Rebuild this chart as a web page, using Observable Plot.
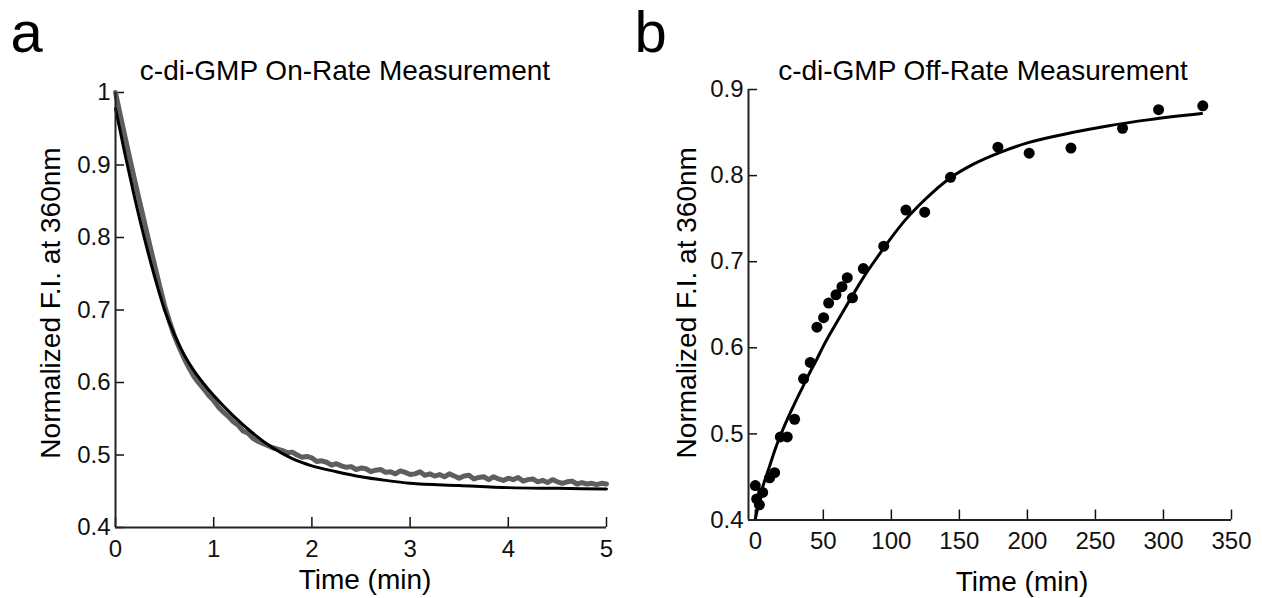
<!DOCTYPE html>
<html><head><meta charset="utf-8">
<script src="https://cdn.jsdelivr.net/npm/d3@7"></script>
<script src="https://cdn.jsdelivr.net/npm/@observablehq/plot@0.6"></script>
<style>
body{margin:0;background:#fff;}
#wrap{position:relative;width:1262px;height:598px;overflow:hidden;font-family:Arial,"Liberation Sans",Helvetica,sans-serif;}
#pa,#pb{position:absolute;top:0;}
#pa{left:0}
#pb{left:631px}
</style></head><body><div id="wrap"><div id="pa"></div><div id="pb"></div></div>
<script>
// ---------- Panel a: on-rate (raw trace + fit) ----------
const onTime = [0,0.05,0.1,0.15,0.2,0.25,0.3,0.35,0.4,0.45,0.5,0.55,0.6,0.65,0.7,0.75,0.8,0.85,0.9,0.95,
1,1.05,1.1,1.15,1.2,1.25,1.3,1.35,1.4,1.45,1.5,1.55,1.6,1.65,1.7,1.75,1.8,1.85,1.9,1.95,
2,2.05,2.1,2.15,2.2,2.25,2.3,2.35,2.4,2.45,2.5,2.55,2.6,2.65,2.7,2.75,2.8,2.85,2.9,2.95,
3,3.05,3.1,3.15,3.2,3.25,3.3,3.35,3.4,3.45,3.5,3.55,3.6,3.65,3.7,3.75,3.8,3.85,3.9,3.95,
4,4.05,4.1,4.15,4.2,4.25,4.3,4.35,4.4,4.45,4.5,4.55,4.6,4.65,4.7,4.75,4.8,4.85,4.9,4.95,5];
const onRaw = [1.000,0.968,0.937,0.906,0.876,0.847,0.818,0.789,0.761,0.733,0.706,0.684,0.664,0.648,0.633,0.620,0.608,0.599,0.591,0.582,
0.575,0.566,0.559,0.553,0.546,0.541,0.533,0.530,0.523,0.519,0.516,0.513,0.510,0.508,0.506,0.503,0.504,0.500,0.497,0.498,
0.496,0.491,0.492,0.490,0.486,0.488,0.485,0.483,0.484,0.480,0.482,0.481,0.477,0.479,0.480,0.476,0.477,0.474,0.478,0.476,
0.473,0.474,0.477,0.472,0.474,0.471,0.473,0.470,0.474,0.471,0.468,0.471,0.472,0.467,0.469,0.470,0.466,0.470,0.467,0.465,
0.468,0.466,0.469,0.464,0.466,0.467,0.463,0.465,0.462,0.466,0.463,0.461,0.463,0.464,0.460,0.462,0.460,0.461,0.459,0.461,0.460];
const onFitTime = [0,0.1,0.2,0.3,0.4,0.5,0.6,0.7,0.8,0.9,1.0,1.2,1.4,1.6,1.8,2.0,2.25,2.5,2.75,3.0,3.5,4.0,4.5,5.0];
const onFit =     [0.978,0.913,0.852,0.796,0.745,0.700,0.666,0.638,0.616,0.598,0.582,0.554,0.530,0.510,0.495,0.485,0.477,0.470,0.465,0.461,0.458,0.455,0.454,0.453];

// ---------- Panel b: off-rate (points + fit) ----------
const offTime  = [0,1,3,5.4,10.5,14.2,18.4,23.5,28.9,35.5,40.4,45.3,50.2,53.9,59.3,63.7,67.6,71.4,79.4,94.4,110.7,124.5,143.5,178.3,201.3,232,269.9,296.4,328.9];
const offValue = [0.440,0.4245,0.4176,0.432,0.449,0.455,0.4965,0.4965,0.517,0.564,0.583,0.624,0.635,0.652,0.6615,0.671,0.6815,0.658,0.692,0.718,0.760,0.7575,0.798,0.833,0.826,0.832,0.855,0.8765,0.881];
const offFitTime = [0,5,10,15,20,25,30,35,40,45,50,60,70,80,90,100,110,120,130,144,160,180,200,233,260,290,328];
const offFit =     [0.401,0.436,0.460,0.484,0.504,0.522,0.539,0.555,0.571,0.586,0.602,0.630,0.657,0.683,0.706,0.728,0.748,0.765,0.780,0.798,0.813,0.827,0.838,0.850,0.858,0.865,0.872];

// ---------- ticks and text ----------
const aXTicks = [0,1,2,3,4,5];
const aYTicks = [0.4,0.5,0.6,0.7,0.8,0.9,1];
const bXTicks = [0,50,100,150,200,250,300,350];
const bYTicks = [0.4,0.5,0.6,0.7,0.8,0.9];
const panelLetters = ["a","b"];
const panelTitles = ["c-di-GMP On-Rate Measurement","c-di-GMP Off-Rate Measurement"];
const xLabel = "Time (min)";
const yLabel = "Normalized F.I. at 360nm";

const FONT = 'Arial, "Liberation Sans", Helvetica, sans-serif';
const rawA = onTime.map((t,i)=>({t, v:onRaw[i]}));
const fitA = onFitTime.map((t,i)=>({t, v:onFit[i]}));
const ptsB = offTime.map((t,i)=>({t, v:offValue[i]}));
const fitB = offFitTime.map((t,i)=>({t, v:offFit[i]}));

function panel(o){
  const txt = {text: d => d, fill: "#000", lineAnchor: "middle"};
  return Plot.plot({
    width: 631, height: 598,
    marginLeft: o.ml, marginRight: o.mr, marginTop: o.mt, marginBottom: o.mb,
    style: {fontFamily: FONT, color: "#111", background: "transparent", overflow: "visible"},
    x: {domain: o.xd},
    y: {domain: o.yd},
    marks: [
      Plot.axisX({ticks: o.xt, tickSize: -10, tickPadding: 22, fontSize: 24, tickFormat: d => String(d), label: null, strokeWidth: 1.5}),
      Plot.axisY({ticks: o.yt, tickSize: -9, tickPadding: 14, fontSize: 24, tickFormat: d => String(d), label: null, strokeWidth: 1.5}),
      ...o.data,
      Plot.ruleY([o.yd[0]], {stroke: "#222", strokeWidth: 2}),
      Plot.ruleX([o.xd[0]], {stroke: "#222", strokeWidth: 2}),
      Plot.text([o.title], {...txt, frameAnchor: "top", textAnchor: "middle", dx: o.tdx, dy: o.tdy, fontSize: 28}),
      Plot.text([o.letter], {...txt, frameAnchor: "top-left", textAnchor: "start", dx: o.ldx, dy: o.ldy, fontSize: 58}),
      Plot.text([xLabel], {...txt, frameAnchor: "bottom", textAnchor: "middle", dx: o.xldx, dy: o.xldy, fontSize: 28}),
      Plot.text([yLabel], {...txt, frameAnchor: "left", textAnchor: "middle", rotate: -90, dx: o.yldx, dy: o.yldy, fontSize: 28})
    ]
  });
}

document.getElementById("pa").append(panel({
  ml: 115, mr: 25, mt: 92, mb: 71,
  xd: [0,5], yd: [0.4,1], xt: aXTicks, yt: aYTicks,
  title: panelTitles[0], tdx: -16, tdy: -21,
  letter: panelLetters[0], ldx: -105, ldy: -59,
  xldx: 4, xldy: 53,
  yldx: -64, yldy: -7,
  data: [
    Plot.line(rawA, {x: "t", y: "v", stroke: "#5e5e5e", strokeWidth: 5}),
    Plot.line(fitA, {x: "t", y: "v", stroke: "#000", strokeWidth: 3, curve: "monotone-x"})
  ]
}));

document.getElementById("pb").append(panel({
  ml: 117, mr: 31, mt: 89, mb: 78.5,
  xd: [-5,350], yd: [0.4,0.9], xt: bXTicks, yt: bYTicks,
  title: panelTitles[1], tdx: -7, tdy: -18,
  letter: panelLetters[1], ldx: -114, ldy: -56,
  xldx: 32, xldy: 62,
  yldx: -61, yldy: -2,
  data: [
    Plot.line(fitB, {x: "t", y: "v", stroke: "#000", strokeWidth: 3, curve: "monotone-x"}),
    Plot.dot(ptsB, {x: "t", y: "v", r: 5.5, fill: "#000", stroke: "none"})
  ]
}));
</script></body></html>
